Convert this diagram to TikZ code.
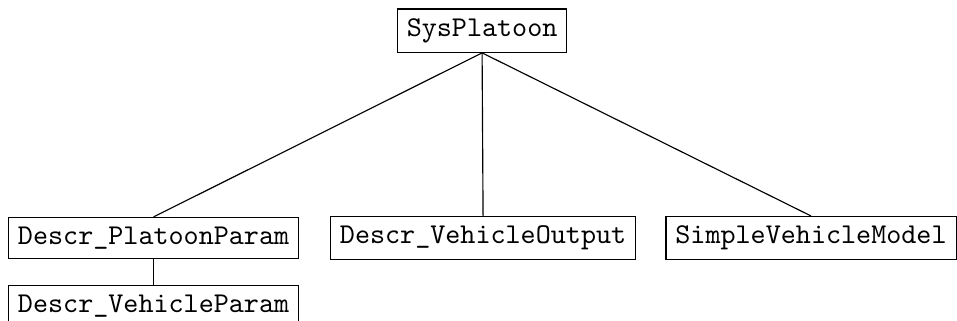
\documentclass[tikz,border=0pt]{standalone}
\usetikzlibrary{positioning}

\begin{document}
\begin{tikzpicture}[
    module/.style={draw, font=\ttfamily, inner sep=3.3pt},
    link/.style={draw}
]
    \useasboundingbox (0, 0) rectangle (11.72, -3.92);

    % Top-level system
    \node[module] (sys) at (5.904, -0.375) {SysPlatoon};

    % First level of submodules
    \node[module] (platoonParam) at (1.881, -2.916) {Descr\_PlatoonParam};
    \node[module] (vehOutput) at (5.916, -2.916) {Descr\_VehicleOutput};
    \node[module] (vehModel) at (9.932, -2.916) {SimpleVehicleModel};

    % Second level
    \node[module] (vehParam) at (1.881, -3.750) {Descr\_VehicleParam};

    % Hierarchy links
    \draw[link] (sys.south) -- (platoonParam.north);
    \draw[link] (sys.south) -- (vehOutput.north);
    \draw[link] (sys.south) -- (vehModel.north);
    \draw[link] (platoonParam.south) -- (vehParam.north);

\end{tikzpicture}
\end{document}
